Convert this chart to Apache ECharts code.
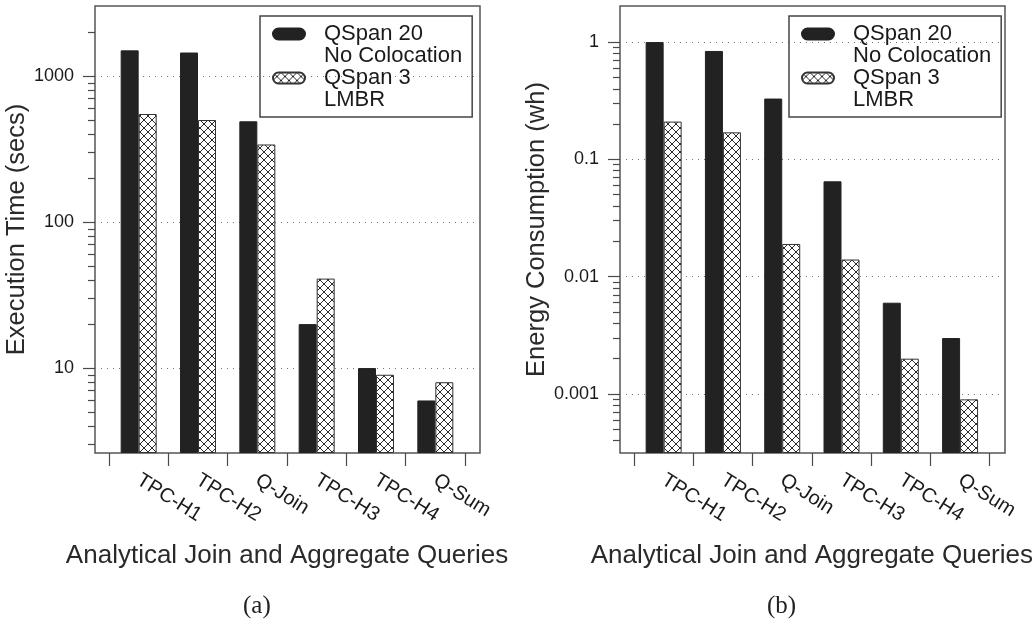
<!DOCTYPE html>
<html>
<head>
<meta charset="utf-8">
<script src="https://cdn.jsdelivr.net/npm/echarts@6/dist/echarts.min.js"></script>
<style>
html,body{margin:0;padding:0;background:#fff;}
#chart{width:1036px;height:624px;}
</style>
</head>
<body>
<div id="chart"></div>
<script>
// ---- data ----
const categories = ['TPC-H1', 'TPC-H2', 'Q-Join', 'TPC-H3', 'TPC-H4', 'Q-Sum'];
const seriesNames = ['QSpan 20', 'QSpan 3'];
const legendExtraLines = ['No Colocation', 'LMBR'];
const timeQSpan20 = [1500, 1450, 490, 20, 10, 6];
const timeQSpan3 = [550, 500, 340, 41, 9, 8];
const energyQSpan20 = [1.0, 0.84, 0.33, 0.065, 0.006, 0.003];
const energyQSpan3 = [0.21, 0.17, 0.019, 0.014, 0.002, 0.0009];
const timeTicks = [10, 100, 1000];
const timeMinorTicks = [3, 4, 5, 6, 7, 8, 9, 20, 30, 40, 50, 60, 70, 80, 90, 200, 300, 400, 500, 600, 700, 800, 900, 2000];
const energyTicks = [0.001, 0.01, 0.1, 1];
const energyMinorTicks = [0.0004, 0.0005, 0.0006, 0.0007, 0.0008, 0.0009,
  0.002, 0.003, 0.004, 0.005, 0.006, 0.007, 0.008, 0.009,
  0.02, 0.03, 0.04, 0.05, 0.06, 0.07, 0.08, 0.09,
  0.2, 0.3, 0.4, 0.5, 0.6, 0.7, 0.8, 0.9];
const timeRange = [2.62, 3020];
const energyRange = [0.000314, 2.03];
const xAxisTitle = 'Analytical Join and Aggregate Queries';
const yTitleA = 'Execution Time (secs)';
const yTitleB = 'Energy Consumption (wh)';
const captions = ['(a)', '(b)'];

// ---- styles ----
const FONT = '"Liberation Sans", Arial, Helvetica, sans-serif';
const TXT = '#1a1a1a';
const AX = '#4a4a4a';

const pc = document.createElement('canvas');
pc.width = 8; pc.height = 8;
const g = pc.getContext('2d');
g.fillStyle = '#fff'; g.fillRect(0, 0, 8, 8);
g.strokeStyle = '#2a2a2a'; g.lineWidth = 1;
g.beginPath();
g.moveTo(0, 0); g.lineTo(8, 8);
g.moveTo(8, 0); g.lineTo(0, 8);
g.stroke();
const hatch = { image: pc, repeat: 'repeat' };

const pill = 'path://M5.5,0 L26.5,0 A5.5,5.5 0 0 1 26.5,11 L5.5,11 A5.5,5.5 0 0 1 5.5,0 Z';

const fmt = v => String(+(+v).toPrecision(6));

function panel(frameLeft, axisLeft, yName, range, ticks, minor, gi) {
  const top = 6, height = 447;
  const grids = [
    { left: frameLeft, top: top, width: 385, height: height, show: true, borderColor: '#555', borderWidth: 1.5, backgroundColor: 'transparent' },
    { left: axisLeft, top: top, width: 356, height: height, show: false }
  ];
  const xAxes = [
    { gridIndex: gi, type: 'value', show: false, min: 0, max: 1 },
    { gridIndex: gi + 1, type: 'category', data: categories,
      axisLine: { show: false },
      axisTick: { show: true, length: 13, lineStyle: { color: AX, width: 1.2 } },
      axisLabel: { rotate: -32, fontSize: 20, margin: 14, color: TXT, fontFamily: FONT, align: 'left', verticalAlign: 'top', padding: [0, 0, 0, 6] },
      name: xAxisTitle, nameLocation: 'middle', nameGap: 90,
      nameTextStyle: { fontSize: 26, color: '#2a2a2a', fontFamily: FONT } }
  ];
  const yAxes = [
    { gridIndex: gi, type: 'log', logBase: 10, min: range[0], max: range[1], position: 'left',
      axisLine: { show: false },
      axisTick: { show: true, length: 12, customValues: ticks, lineStyle: { color: AX, width: 1.2 } },
      axisLabel: { customValues: ticks, fontSize: 18, margin: 21, color: TXT, fontFamily: FONT, formatter: fmt },
      splitLine: { show: true, lineStyle: { type: [1, 5], color: '#777', width: 1 } },
      name: yName, nameLocation: 'middle', nameGap: 53,
      nameTextStyle: { fontSize: 25.5, color: '#2a2a2a', fontFamily: FONT } },
    { gridIndex: gi, type: 'log', logBase: 10, min: range[0], max: range[1], position: 'left', offset: 0,
      axisLine: { show: false },
      axisTick: { show: true, length: 7, customValues: minor, lineStyle: { color: AX, width: 1.2 } },
      axisLabel: { show: false },
      splitLine: { show: false } },
    { gridIndex: gi + 1, type: 'log', logBase: 10, min: range[0], max: range[1], startValue: range[0], show: false }
  ];
  return { grids, xAxes, yAxes };
}

const pA = panel(95, 109, yTitleA, timeRange, timeTicks, timeMinorTicks, 0);
const pB = panel(620, 634, yTitleB, energyRange, energyTicks, energyMinorTicks, 2);

function bars(name, data, xi, yi, color, border) {
  return { name, type: 'bar', xAxisIndex: xi, yAxisIndex: yi, data, barWidth: 18, barGap: '0%',
    clip: true,
    itemStyle: { color, borderColor: border, borderWidth: 1 } };
}
function dummy(name, xi, yi) {
  return { name, type: 'scatter', xAxisIndex: xi, yAxisIndex: yi, data: [], itemStyle: { color: 'rgba(0,0,0,0)' } };
}

const series = [
  bars(seriesNames[0], timeQSpan20, 1, 2, '#222', '#222'),
  bars(seriesNames[1], timeQSpan3, 1, 2, hatch, '#333'),
  dummy(legendExtraLines[0], 1, 2),
  dummy(legendExtraLines[1], 1, 2),
  bars(seriesNames[0], energyQSpan20, 3, 5, '#222', '#222'),
  bars(seriesNames[1], energyQSpan3, 3, 5, hatch, '#333')
];

function legend(left) {
  return { orient: 'vertical', left: left, top: 16, padding: [7, 10, 6, 12],
    itemWidth: 32, itemHeight: 11, itemGap: 0, selectedMode: false,
    borderColor: '#444', borderWidth: 1.5,
    textStyle: { fontSize: 22, lineHeight: 21, color: TXT, fontFamily: FONT, padding: [0, 0, 0, 14] },
    data: [
      { name: seriesNames[0], icon: pill },
      { name: legendExtraLines[0], icon: pill },
      { name: seriesNames[1], icon: pill },
      { name: legendExtraLines[1], icon: pill }
    ] };
}

const option = {
  animation: false,
  backgroundColor: '#fff',
  title: [
    { text: captions[0], left: 238, top: 589, textStyle: { fontFamily: '"Liberation Serif", "Times New Roman", serif', fontSize: 25, fontWeight: 'normal', color: '#222' } },
    { text: captions[1], left: 762, top: 589, textStyle: { fontFamily: '"Liberation Serif", "Times New Roman", serif', fontSize: 25, fontWeight: 'normal', color: '#222' } }
  ],
  legend: [legend(260), legend(789)],
  grid: pA.grids.concat(pB.grids),
  xAxis: pA.xAxes.concat(pB.xAxes),
  yAxis: pA.yAxes.concat(pB.yAxes),
  series
};

const chart = echarts.init(document.getElementById('chart'), null, { renderer: 'canvas' });
chart.setOption(option);
</script>
</body>
</html>
